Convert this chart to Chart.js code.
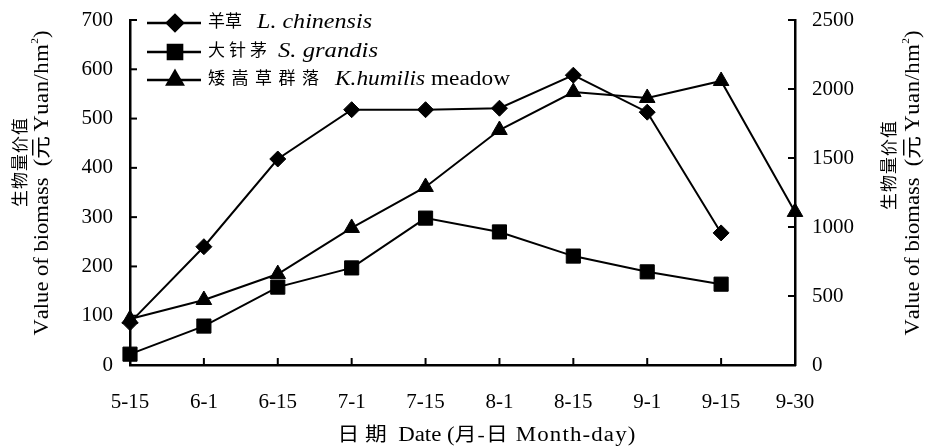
<!DOCTYPE html>
<html>
<head>
<meta charset="utf-8">
<script src="https://cdn.jsdelivr.net/npm/chart.js"></script>
<style>
  html, body { margin: 0; padding: 0; background: #fff; }
  #wrap { width: 926px; height: 447px; }
</style>
</head>
<body>
<div id="wrap"><canvas id="chart_biomass"></canvas></div>
<script>
// dates (month-day)
var dates = ['5-15', '6-1', '6-15', '7-1', '7-15', '8-1', '8-15', '9-1', '9-15', '9-30'];
// left axis, 元 Yuan/hm2
var chinensis = [86, 240, 418, 518, 518, 521, 588, 513, 268, null];
var grandis = [22, 79, 158, 197, 298, 270, 221, 189, 164, null];
// right axis, 元 Yuan/hm2
var meadow = [333, 471, 659, 993, 1290, 1703, 1978, 1935, 2058, 1109];
var leftTicks = [0, 100, 200, 300, 400, 500, 600, 700];
var rightTicks = [0, 500, 1000, 1500, 2000, 2500];

var SERIF = '"Liberation Serif", "Times New Roman", "Noto Sans CJK SC", serif';

function runsWidth(ctx, runs) {
    var total = 0;
    runs.forEach(function (r) {
        ctx.font = r.font;
        for (var i = 0; i < r.text.length; i++) {
            total += ctx.measureText(r.text[i]).width + (r.gap || 0);
        }
    });
    return total;
}

// draw text runs; align 'center' or 'left' at (x, y), rotated by rot,
// squeezed/stretched along the text to 'len' px if given
function drawRuns(ctx, runs, x, y, opts) {
    opts = opts || {};
    var total = runsWidth(ctx, runs);
    var sx = opts.len ? opts.len / total : 1;
    ctx.save();
    ctx.translate(x, y);
    if (opts.rot) ctx.rotate(opts.rot);
    ctx.scale(sx, 1);
    ctx.fillStyle = '#000';
    ctx.textBaseline = 'middle';
    ctx.textAlign = 'left';
    var px = opts.align === 'left' ? 0 : -total / 2;
    runs.forEach(function (r) {
        ctx.font = r.font;
        for (var i = 0; i < r.text.length; i++) {
            ctx.fillText(r.text[i], px, r.dy || 0);
            px += ctx.measureText(r.text[i]).width + (r.gap || 0);
        }
    });
    ctx.restore();
}

var titleRuns = [
    { text: 'Value of biomass  (', font: '20px ' + SERIF },
    { text: '元', font: '20px ' + SERIF, gap: 4 },
    { text: 'Yuan/hm', font: '20px ' + SERIF, gap: 0.5 },
    { text: '2', font: '10px ' + SERIF, dy: -8 },
    { text: ')', font: '20px ' + SERIF }
];
var cnTitle = [{ text: '生物量价值', font: '17px ' + SERIF, gap: 1 }];

var legendRows = [
    { ds: 0, cn: '羊草', gap: 0, latin: [{ text: 'L. chinensis', font: 'italic 20px ' + SERIF }], lx: 257, lw: 115 },
    { ds: 1, cn: '大针茅', gap: 4, latin: [{ text: 'S. grandis', font: 'italic 20px ' + SERIF }], lx: 278, lw: 100 },
    { ds: 2, cn: '矮嵩草群落', gap: 6.5, latin: [{ text: 'K.humilis', font: 'italic 20px ' + SERIF }, { text: ' meadow', font: '20px ' + SERIF }], lx: 335, lw: 175 }
];

var extrasPlugin = {
    id: 'extras',
    afterDraw: function (chart) {
        var ctx = chart.ctx;
        var area = chart.chartArea;
        var x = chart.scales.x, yl = chart.scales.y, yr = chart.scales.y1;
        var tick = 7;
        ctx.save();
        ctx.strokeStyle = '#000';
        ctx.lineWidth = 2;
        // inward tick marks
        yl.ticks.forEach(function (t) {
            var py = yl.getPixelForValue(t.value);
            ctx.beginPath(); ctx.moveTo(area.left, py); ctx.lineTo(area.left + tick, py); ctx.stroke();
        });
        yr.ticks.forEach(function (t) {
            var py = yr.getPixelForValue(t.value);
            ctx.beginPath(); ctx.moveTo(area.right, py); ctx.lineTo(area.right - tick, py); ctx.stroke();
        });
        dates.forEach(function (d, i) {
            var px = x.getPixelForValue(i);
            ctx.beginPath(); ctx.moveTo(px, area.bottom); ctx.lineTo(px, area.bottom - tick); ctx.stroke();
        });

        // axis titles
        var up = -Math.PI / 2;
        drawRuns(ctx, cnTitle, 22, 162, { rot: up });
        drawRuns(ctx, titleRuns, 43, 183, { rot: up, len: 305 });
        drawRuns(ctx, cnTitle, 891, 165, { rot: up });
        drawRuns(ctx, titleRuns, 914, 183, { rot: up, len: 305 });
        drawRuns(ctx, [
            { text: '日期', font: '19px ' + SERIF, gap: 5 },
            { text: ' Date (', font: '20px ' + SERIF },
            { text: '月-日', font: '19px ' + SERIF, gap: 1 },
            { text: ' Month-day)', font: '20px ' + SERIF, gap: 1 }
        ], 487, 436, { len: 299 });

        // legend
        var rowY = [23, 52, 80];
        legendRows.forEach(function (row, i) {
            var ds = chart.data.datasets[row.ds];
            var y = rowY[i];
            ctx.lineWidth = 2.5;
            ctx.beginPath(); ctx.moveTo(147, y); ctx.lineTo(201, y); ctx.stroke();
            ctx.fillStyle = '#000';
            Chart.helpers.drawPoint(ctx, {
                pointStyle: ds.pointStyle, radius: ds.pointRadius, borderWidth: 1, rotation: 0
            }, 175, y);
            ctx.fill();
            drawRuns(ctx, [{ text: row.cn, font: '17px ' + SERIF, gap: row.gap }], 208, y, { align: 'left' });
            drawRuns(ctx, row.latin, row.lx, y, { align: 'left', len: row.lw });
        });
        ctx.restore();
    }
};

var tickFont = { family: SERIF, size: 21 };
var plainNumber = function (v) { return String(v); };

var ctx = document.getElementById('chart_biomass').getContext('2d');
var chart = new Chart(ctx, {
    type: 'line',
    data: {
        labels: dates,
        datasets: [{
            label: '羊草 L. chinensis',
            data: chinensis,
            yAxisID: 'y',
            pointStyle: 'rectRot',
            pointRadius: 8
        }, {
            label: '大针茅 S. grandis',
            data: grandis,
            yAxisID: 'y',
            pointStyle: 'rect',
            pointRadius: 10
        }, {
            label: '矮嵩草群落 K.humilis meadow',
            data: meadow,
            yAxisID: 'y1',
            pointStyle: 'triangle',
            pointRadius: 9
        }].map(function (d) {
            d.borderColor = '#000';
            d.backgroundColor = '#000';
            d.pointBackgroundColor = '#000';
            d.pointBorderColor = '#000';
            d.borderWidth = 2;
            d.pointBorderWidth = 1;
            d.tension = 0;
            return d;
        })
    },
    options: {
        responsive: true,
        maintainAspectRatio: false,
        animation: false,
        layout: { padding: { top: 20, left: 0, right: 0, bottom: 0 } },
        plugins: {
            legend: { display: false },
            tooltip: { enabled: false }
        },
        scales: {
            x: {
                offset: false,
                grid: { display: false, drawTicks: false },
                border: { display: true, color: '#000', width: 2.5 },
                ticks: { color: '#000', font: tickFont, padding: 25, maxRotation: 0, autoSkip: false },
                afterFit: function (s) { s.height = 82; s.paddingLeft = 0; s.paddingRight = 0; }
            },
            y: {
                position: 'left',
                min: 0, max: 700,
                grid: { display: false, drawTicks: false },
                border: { display: true, color: '#000', width: 2.5 },
                ticks: { color: '#000', font: tickFont, padding: 17, callback: plainNumber },
                afterBuildTicks: function (s) { s.ticks = leftTicks.map(function (v) { return { value: v }; }); },
                afterFit: function (s) { s.width = 130; s.paddingTop = 0; s.paddingBottom = 0; }
            },
            y1: {
                position: 'right',
                min: 0, max: 2500,
                grid: { display: false, drawTicks: false, drawOnChartArea: false },
                border: { display: true, color: '#000', width: 2.5 },
                ticks: { color: '#000', font: tickFont, padding: 17, callback: plainNumber },
                afterBuildTicks: function (s) { s.ticks = rightTicks.map(function (v) { return { value: v }; }); },
                afterFit: function (s) { s.width = 131; s.paddingTop = 0; s.paddingBottom = 0; }
            }
        }
    },
    plugins: [extrasPlugin]
});
</script>
</body>
</html>
